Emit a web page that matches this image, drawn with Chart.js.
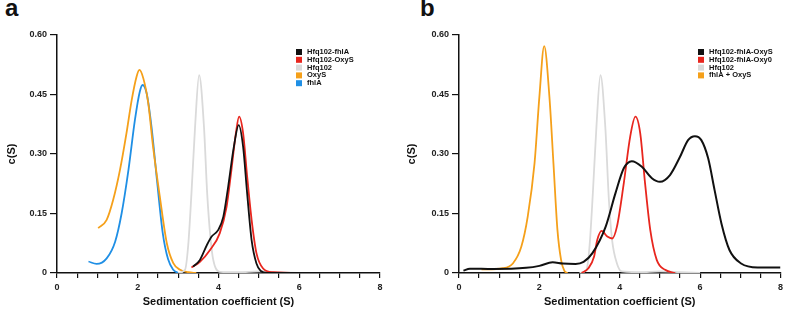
<!DOCTYPE html>
<html>
<head>
<meta charset="utf-8">
<script src="https://cdn.jsdelivr.net/npm/chart.js@4.4.0/dist/chart.umd.min.js"></script>
<style>
  body { margin: 0; background: #fff; width: 787px; height: 313px; position: relative; overflow: hidden; }
  canvas { position: absolute; top: 0; }
  .panel { position: absolute; top: -6px; font: bold 24px "Liberation Sans", Arial, sans-serif; color: #111; }
</style>
</head>
<body>
<div class="panel" style="left:5px">a</div>
<div class="panel" style="left:420px">b</div>
<canvas id="chartA" width="393" height="313" style="left:0"></canvas>
<canvas id="chartB" width="387" height="313" style="left:400px"></canvas>
<script>
// tick labels
const xTickLabels = [0, 2, 4, 6, 8];
const yTickValues = [0, 0.15, 0.30, 0.45, 0.60];

// panel a
const aNames = ['Hfq102-fhlA', 'Hfq102-OxyS', 'Hfq102', 'OxyS', 'fhlA'];
const aBlackX = [3.37, 3.54, 3.71, 3.83, 3.99, 4.12, 4.24, 4.38, 4.5, 4.61, 4.71, 4.82, 4.94, 5.05, 5.2, 6, 7, 8];
const aBlackY = [0.016, 0.033, 0.07, 0.092, 0.108, 0.142, 0.218, 0.318, 0.373, 0.318, 0.2, 0.083, 0.024, 0.005, 0, 0, 0, 0];
const aRedX = [3.33, 3.54, 3.79, 4.03, 4.2, 4.32, 4.43, 4.51, 4.61, 4.71, 4.82, 4.94, 5.1, 5.35, 6, 7, 8];
const aRedY = [0.014, 0.028, 0.058, 0.1, 0.167, 0.26, 0.352, 0.394, 0.352, 0.243, 0.134, 0.05, 0.012, 0.002, 0, 0, 0];
const aGrayX = [3.0, 3.17, 3.25, 3.33, 3.42, 3.52, 3.64, 3.72, 3.8, 3.87, 4.03, 4.5, 5.0, 5.5, 6.0];
const aGrayY = [0, 0.008, 0.07, 0.2, 0.369, 0.499, 0.369, 0.2, 0.09, 0.033, 0.003, 0.002, 0.004, 0.002, 0];
const aOrangeX = [1.02, 1.23, 1.39, 1.56, 1.72, 1.85, 1.97, 2.04, 2.14, 2.26, 2.38, 2.55, 2.72, 2.88, 3.05, 3.25, 3.45];
const aOrangeY = [0.113, 0.134, 0.184, 0.26, 0.352, 0.436, 0.495, 0.512, 0.49, 0.428, 0.318, 0.19, 0.075, 0.025, 0.008, 0.002, 0];
const aBlueX = [0.78, 0.98, 1.23, 1.44, 1.6, 1.77, 1.93, 2.05, 2.12, 2.22, 2.34, 2.48, 2.62, 2.75, 2.88, 3.0];
const aBlueY = [0.029, 0.023, 0.037, 0.079, 0.15, 0.26, 0.386, 0.457, 0.474, 0.453, 0.369, 0.23, 0.1, 0.035, 0.008, 0];

// panel b
const bNames = ['Hfq102-fhlA-OxyS', 'Hfq102-fhlA-Oxy0', 'Hfq102', 'fhlA + OxyS'];
const bBlackX = [0.11, 0.27, 0.84, 1.67, 2.0, 2.33, 2.58, 2.9, 3.1, 3.32, 3.65, 3.89, 4.1, 4.3, 4.55, 4.8, 5.0, 5.25, 5.5, 5.7, 5.87, 6.03, 6.2, 6.36, 6.53, 6.73, 7.02, 7.43, 7.93, 8.0];
const bBlackY = [0.006, 0.011, 0.01, 0.013, 0.018, 0.027, 0.024, 0.023, 0.028, 0.05, 0.117, 0.2, 0.264, 0.282, 0.268, 0.239, 0.23, 0.247, 0.293, 0.335, 0.345, 0.335, 0.289, 0.209, 0.125, 0.058, 0.024, 0.014, 0.014, 0.014];
const bRedX = [3.05, 3.22, 3.36, 3.44, 3.55, 3.69, 3.81, 3.93, 4.1, 4.26, 4.39, 4.51, 4.63, 4.76, 4.92, 5.13, 5.38];
const bRedY = [0, 0.012, 0.041, 0.083, 0.106, 0.092, 0.087, 0.117, 0.226, 0.344, 0.394, 0.352, 0.226, 0.108, 0.033, 0.008, 0];
const bGrayX = [3.0, 3.17, 3.25, 3.33, 3.42, 3.52, 3.64, 3.73, 3.81, 3.93, 4.05, 4.5, 5.0, 5.5, 6.0];
const bGrayY = [0, 0.008, 0.07, 0.2, 0.369, 0.499, 0.369, 0.184, 0.083, 0.024, 0.004, 0.002, 0.004, 0.002, 0];
const bOrangeX = [0.56, 1.09, 1.34, 1.55, 1.71, 1.88, 2.0, 2.12, 2.25, 2.35, 2.45, 2.54, 2.62, 2.7];
const bOrangeY = [0.009, 0.012, 0.024, 0.066, 0.142, 0.277, 0.444, 0.572, 0.444, 0.277, 0.108, 0.033, 0.006, 0];

const BLACK = '#111111', RED = '#e8261e', GRAY = '#dadada', ORANGE = '#f5a01a', BLUE = '#1f8fe5';
const FONT = "'Liberation Sans', Arial, sans-serif";

function series(label, xs, ys, color, width) {
  return {
    label: label,
    data: xs.map((x, i) => ({ x: x, y: ys[i] })),
    borderColor: color,
    backgroundColor: color,
    borderWidth: width || 1.8,
    pointRadius: 0,
    cubicInterpolationMode: 'monotone',
    fill: false
  };
}

// small legend drawn inside the plot area, top right
const boxLegend = {
  id: 'boxLegend',
  afterDraw(chart, args, opts) {
    const ctx = chart.ctx;
    ctx.save();
    ctx.font = 'bold 7.5px ' + FONT;
    ctx.textBaseline = 'middle';
    chart.data.datasets.forEach((ds, i) => {
      const y = opts.y + i * opts.gap;
      ctx.fillStyle = ds.borderColor;
      ctx.fillRect(opts.x, y - 3, 6, 6);
      ctx.fillStyle = '#111';
      ctx.fillText(ds.label, opts.x + 11, y);
    });
    ctx.restore();
  }
};

function makeChart(id, datasets, yWidth, padRight, legendPos) {
  const ctx = document.getElementById(id).getContext('2d');
  return new Chart(ctx, {
    type: 'line',
    data: { datasets: datasets },
    plugins: [boxLegend],
    options: {
      responsive: false,
      animation: false,
      devicePixelRatio: 1,
      layout: { padding: { top: 35, right: padRight, left: 0, bottom: 0 } },
      plugins: {
        legend: { display: false },
        tooltip: { enabled: false },
        boxLegend: legendPos
      },
      scales: {
        x: {
          type: 'linear',
          min: 0,
          max: 8,
          afterFit: s => { s.height = 40; },
          afterBuildTicks: s => {
            const t = [];
            for (let v = 0; v <= 16; v++) t.push({ value: v / 2 });
            s.ticks = t;
          },
          ticks: {
            autoSkip: false,
            maxRotation: 0,
            padding: 4,
            color: '#222',
            font: { family: FONT, size: 9, weight: 'bold' },
            callback: v => xTickLabels.includes(v) ? String(v) : ''
          },
          grid: { drawOnChartArea: false, drawTicks: true, tickLength: 5, color: '#111', lineWidth: 1.2 },
          border: { color: '#111', width: 1.5 },
          title: {
            display: true,
            text: 'Sedimentation coefficient (S)',
            color: '#111',
            font: { family: FONT, size: 11, weight: 'bold' },
            padding: { top: 0, bottom: 4 }
          }
        },
        y: {
          min: 0,
          max: 0.6,
          afterFit: s => { s.width = yWidth; },
          afterBuildTicks: s => { s.ticks = yTickValues.map(v => ({ value: v })); },
          ticks: {
            padding: 3,
            color: '#222',
            font: { family: FONT, size: 9, weight: 'bold' },
            callback: v => v === 0 ? '0' : v.toFixed(2)
          },
          grid: { drawOnChartArea: false, drawTicks: true, tickLength: 7, color: '#111', lineWidth: 1.2 },
          border: { color: '#111', width: 1.5 },
          title: {
            display: true,
            text: 'c(S)',
            color: '#111',
            font: { family: FONT, size: 11, weight: 'bold' },
            padding: { top: 5, bottom: 0 }
          }
        }
      }
    }
  });
}

makeChart('chartA', [
  series(aNames[0], aBlackX, aBlackY, BLACK),
  series(aNames[1], aRedX, aRedY, RED),
  series(aNames[2], aGrayX, aGrayY, GRAY),
  series(aNames[3], aOrangeX, aOrangeY, ORANGE),
  series(aNames[4], aBlueX, aBlueY, BLUE)
], 57, 13, { x: 296, y: 52, gap: 7.8 });

makeChart('chartB', [
  series(bNames[0], bBlackX, bBlackY, BLACK, 2),
  series(bNames[1], bRedX, bRedY, RED),
  series(bNames[2], bGrayX, bGrayY, GRAY),
  series(bNames[3], bOrangeX, bOrangeY, ORANGE)
], 59, 4, { x: 298, y: 52, gap: 7.8 });
</script>
</body>
</html>
